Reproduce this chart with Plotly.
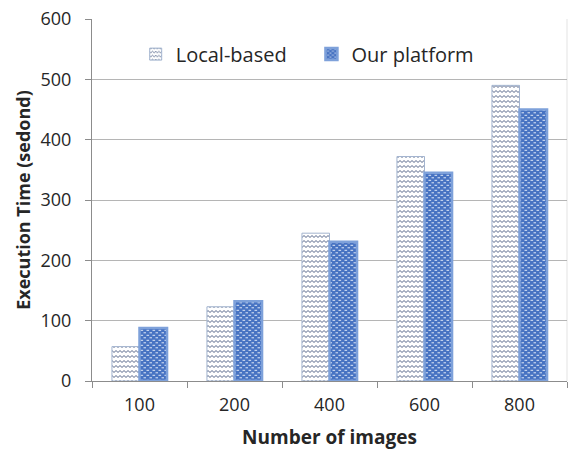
import plotly.graph_objects as go

# Benchmark: execution time vs. number of images
categories = ["100", "200", "400", "600", "800"]
local_based = [57, 123, 245, 372, 490]
our_platform = [88, 132, 231, 345, 450]
y_ticks = [0, 100, 200, 300, 400, 500, 600]

FONT = "Open Sans"
TEXT = "#262626"

fig = go.Figure()
fig.add_trace(go.Bar(
    name="Local-based", x=categories, y=local_based, legend="legend",
    marker=dict(color="white",
                pattern=dict(shape="-", fgcolor="#3d4f78", bgcolor="white",
                             size=8, solidity=0.2),
                line=dict(color="#a3b4cf", width=1)),
))
fig.add_trace(go.Bar(
    name="Our platform", x=categories, y=our_platform, legend="legend2",
    marker=dict(color="#4773c2",
                pattern=dict(shape=".", fgcolor="#dfe8f7", bgcolor="#4773c2",
                             size=6, solidity=0.3),
                line=dict(color="#7ea1da", width=2.5)),
))

legend_common = dict(
    orientation="h", xanchor="left", yanchor="middle", bgcolor="rgba(0,0,0,0)",
    font=dict(size=20, family=FONT, color=TEXT), itemwidth=30,
)

fig.update_layout(
    width=573, height=455,
    margin=dict(l=92, r=6, t=19, b=74, autoexpand=False),
    paper_bgcolor="white", plot_bgcolor="white",
    font=dict(family=FONT, size=18, color=TEXT),
    barmode="group", bargap=0.42, bargroupgap=0,
    showlegend=True,
    legend=dict(x=0.092, y=0.903, **legend_common),
    legend2=dict(x=0.462, y=0.903, **legend_common),
    xaxis=dict(
        title=dict(text="<b>Number of images</b>", font=dict(size=19), standoff=16),
        showline=True, linecolor="#8c8c8c", linewidth=1,
        ticks="outside", tickson="boundaries", ticklen=6, tickcolor="#8c8c8c",
        ticklabelstandoff=7, showgrid=False,
    ),
    yaxis=dict(
        title=dict(text="<b>Execution Time (sedond)</b>", font=dict(size=18), standoff=5),
        range=[0, 600], tickvals=y_ticks,
        showline=True, linecolor="#8c8c8c", linewidth=1,
        ticks="outside", ticklen=6, tickcolor="#8c8c8c", ticklabelstandoff=10,
        showgrid=True, gridcolor="#b5b5b5", gridwidth=1,
        zeroline=False,
    ),
    # faint frame line on the right edge of the plot area
    shapes=[dict(type="line", xref="paper", yref="paper", x0=1, x1=1, y0=0, y1=1,
                 line=dict(color="#e3e3e3", width=1), layer="below")],
)

# Custom fill textures: wavy lines for the local-based bars and
# staggered dashes for our platform (replaces the tile contents of the
# plotly patterns after each render).
post_js = """
(function(){
  var gd = document.getElementById('{plot_id}');
  var NS = 'http://www.w3.org/2000/svg';
  function el(tag, attrs){
    var e = document.createElementNS(NS, tag);
    for (var k in attrs) e.setAttribute(k, attrs[k]);
    return e;
  }
  function restyle(){
    var pats = document.querySelectorAll('pattern');
    pats.forEach(function(p){
      if (p.getAttribute('data-custom')) return;
      var isWave = p.querySelector('path') !== null;
      var isDots = p.querySelector('circle') !== null;
      if (!isWave && !isDots) return;
      while (p.firstChild) p.removeChild(p.firstChild);
      p.setAttribute('patternUnits', 'userSpaceOnUse');
      if (isWave) {
        p.setAttribute('width', 8); p.setAttribute('height', 5);
        p.appendChild(el('rect', {x:0, y:0, width:8, height:5, fill:'#ffffff'}));
        p.appendChild(el('path', {d:'M-2,3.5 L0,1.5 L2,3.5 L4,1.5 L6,3.5 L8,1.5 L10,3.5',
          fill:'none', stroke:'#3d4f78', 'stroke-width':0.9}));
      } else {
        p.setAttribute('width', 6); p.setAttribute('height', 5);
        p.appendChild(el('rect', {x:0, y:0, width:6, height:5, fill:'#4773c2'}));
        p.appendChild(el('rect', {x:0.5, y:0.8, width:2.6, height:1, fill:'#dfe8f7'}));
        p.appendChild(el('rect', {x:3.5, y:3.3, width:2.6, height:1, fill:'#dfe8f7'}));
      }
      p.setAttribute('data-custom', '1');
    });
  }
  restyle();
  if (gd && gd.on) gd.on('plotly_afterplot', restyle);
  setTimeout(restyle, 50);
  setTimeout(restyle, 300);
})();
"""

fig.write_html("out.html", post_script=post_js)
